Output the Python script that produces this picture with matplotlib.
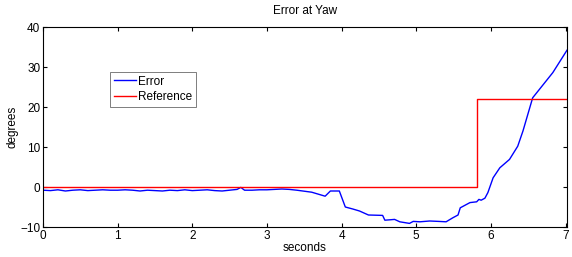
import matplotlib
matplotlib.use("Agg")
import matplotlib.pyplot as plt

plt.rcParams['font.family'] = ['Liberation Sans', 'DejaVu Sans']

err_t = [0, 0.1, 0.2, 0.3, 0.4, 0.5, 0.6, 0.7, 0.8, 0.9, 1.0, 1.1, 1.2, 1.3, 1.4,
         1.5, 1.6, 1.7, 1.8, 1.9, 2.0, 2.1, 2.2, 2.3, 2.4, 2.5, 2.6, 2.65, 2.7,
         2.8, 2.9, 3.0, 3.1, 3.2, 3.3, 3.4, 3.6, 3.78, 3.85, 3.97, 4.05, 4.15,
         4.24, 4.36, 4.55, 4.58, 4.65, 4.71, 4.78, 4.91, 4.96, 5.05, 5.18, 5.3,
         5.40, 5.49, 5.56, 5.59, 5.72, 5.81, 5.84, 5.87, 5.92, 5.96, 6.03, 6.12,
         6.25, 6.36, 6.43, 6.56, 6.65, 6.83, 7.02]
err_v = [-0.8, -0.9, -0.7, -1.0, -0.8, -0.7, -0.9, -0.8, -0.7, -0.8, -0.8, -0.7,
         -0.8, -1.0, -0.8, -0.9, -1.0, -0.8, -0.9, -0.7, -0.9, -0.8, -0.7, -0.9,
         -1.0, -0.8, -0.6, -0.1, -0.8, -0.8, -0.7, -0.7, -0.6, -0.5, -0.6, -0.8,
         -1.3, -2.3, -1.0, -1.0, -5.0, -5.5, -6.0, -7.0, -7.1, -8.3, -8.2, -8.1,
         -8.7, -9.1, -8.6, -8.7, -8.5, -8.6, -8.7, -7.7, -7.0, -5.2, -3.9, -3.7,
         -3.1, -3.3, -2.8, -1.4, 2.3, 4.8, 6.9, 10.2, 14.0, 22.3, 24.4, 28.6, 34.2]

ref_t = [0, 5.81, 5.81, 7.02]
ref_v = [0, 0, 22, 22]

xticks = [0, 1, 2, 3, 4, 5, 6, 7]
yticks = [-10, 0, 10, 20, 30, 40]

fig = plt.figure(figsize=(5.72, 2.57), dpi=100)
ax = fig.add_axes([43/572, 30/257, 524/572, 200/257])
ax.plot(err_t, err_v, color='#0000ff', lw=1.0, label='Error')
ax.plot(ref_t, ref_v, color='#ff0000', lw=1.0, label='Reference')
ax.set_xlim(0, 7.02)
ax.set_ylim(-10, 40)
ax.set_xticks(xticks)
ax.set_yticks(yticks)
ax.tick_params(direction='in', top=True, right=True, length=3, labelsize=8.5, width=0.8, pad=2)
for s in ax.spines.values():
    s.set_linewidth(0.8)
ax.set_title('Error at Yaw', fontsize=8.5, pad=9)
ax.set_xlabel('seconds', fontsize=8.5, labelpad=0)
ax.set_ylabel('degrees', fontsize=8.5, labelpad=1)
leg = ax.legend(loc='upper left', bbox_to_anchor=(0.128, 0.775), fontsize=8.5,
                frameon=True, fancybox=False, edgecolor='#444444',
                handlelength=1.9, handletextpad=0.2, borderpad=0.3,
                labelspacing=0.3, borderaxespad=0)
leg.get_frame().set_linewidth(0.6)
fig.savefig('out.png', dpi=100)
